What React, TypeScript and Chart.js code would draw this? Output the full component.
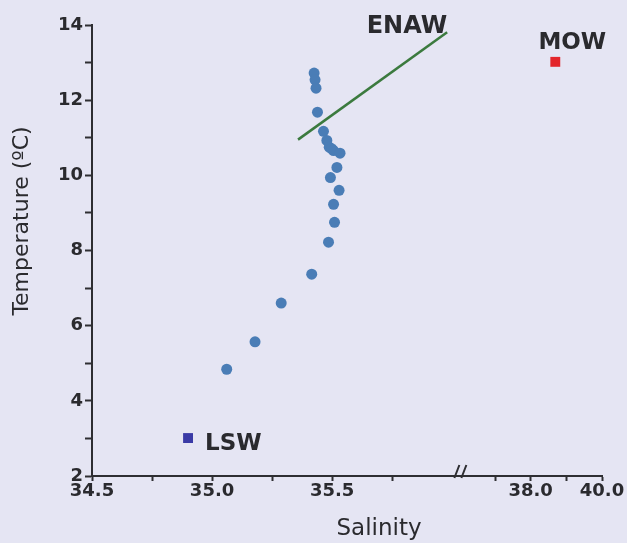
import React, { useEffect, useRef } from 'react';
import { Chart, registerables } from 'chart.js';

Chart.register(...registerables);

// ---- data ----
const SALINITY = [35.425, 35.429, 35.433, 35.439, 35.464, 35.478, 35.488, 35.498, 35.506, 35.533, 35.52, 35.493, 35.529, 35.506, 35.51, 35.485, 35.415, 35.288, 35.179, 35.061];
const TEMPERATURE = [12.72, 12.54, 12.32, 11.68, 11.17, 10.93, 10.75, 10.71, 10.66, 10.59, 10.21, 9.94, 9.6, 9.23, 8.75, 8.22, 7.37, 6.6, 5.57, 4.84];
const ENAW_SAL = [35.358, 35.979];
const ENAW_TEMP = [10.95, 13.81];
const MOW_SAL = [38.69];
const MOW_TEMP = [13.02];
const LSW_SAL = [34.9];
const LSW_TEMP = [3.01];
const X_TICKS = [34.5, 34.75, 35.0, 35.25, 35.5, 35.75, 37, 38, 39, 40];
const X_TICK_LABELS = ['34.5', '', '35.0', '', '35.5', '', '', '38.0', '', '40.0'];
const Y_MIN = 2;
const Y_MAX = 14;
const X_TITLE = 'Salinity';
const Y_TITLE = 'Temperature (\u00baC)';

// broken x axis mapping
const BREAK_SAL = 36;
const BREAK_GAP = 0.03;
const RIGHT_FACTOR = 0.1485;
const toAxis = (s: number) => (s <= BREAK_SAL ? s : BREAK_SAL + BREAK_GAP + (s - BREAK_SAL) * RIGHT_FACTOR);

const FONT = 'DejaVu Sans';
const TEXT = '#2a2a2e';
const AXIS = '#2e2e32';
const BLUE = '#4a7db6';
const GREEN = '#3b7a3e';
const RED = '#e3262b';
const INDIGO = '#3a3aa6';
const BG = '#e5e5f3';

const annotPlugin = {
  id: 'annot',
  afterDraw(chart: any) {
    const ctx = chart.ctx;
    const xs = chart.scales.x;
    const ys = chart.scales.y;
    const area = chart.chartArea;
    ctx.save();
    ctx.fillStyle = TEXT;
    // ENAW label at line end
    const ex = xs.getPixelForValue(toAxis(ENAW_SAL[1]));
    const ey = ys.getPixelForValue(ENAW_TEMP[1]);
    ctx.font = `bold 24px "${FONT}"`;
    ctx.textAlign = 'right';
    ctx.textBaseline = 'alphabetic';
    ctx.fillText('ENAW', ex, ey + 1);
    // MOW label
    const mx = xs.getPixelForValue(toAxis(MOW_SAL[0]));
    const my = ys.getPixelForValue(MOW_TEMP[0]);
    ctx.font = `bold 23px "${FONT}"`;
    ctx.textAlign = 'center';
    ctx.fillText('MOW', mx + 17, my - 13);
    // LSW label
    const lx = xs.getPixelForValue(toAxis(LSW_SAL[0]));
    const ly = ys.getPixelForValue(LSW_TEMP[0]);
    ctx.textAlign = 'left';
    ctx.fillText('LSW', lx + 17, ly + 12);
    // axis titles
    ctx.font = `23px "${FONT}"`;
    ctx.textAlign = 'center';
    ctx.fillText(X_TITLE, area.left + 287, area.bottom + 59);
    ctx.save();
    ctx.translate(area.left - 64, area.top + 196);
    ctx.rotate(-Math.PI / 2);
    ctx.font = `22px "${FONT}"`;
    ctx.fillText(Y_TITLE, 0, 0);
    ctx.restore();
    // axis break mark
    const bx = xs.getPixelForValue(BREAK_SAL + BREAK_GAP);
    const by = area.bottom;
    ctx.strokeStyle = AXIS;
    ctx.lineWidth = 2;
    ctx.beginPath();
    ctx.moveTo(bx - 5, by + 2);
    ctx.lineTo(bx, by - 11);
    ctx.moveTo(bx + 2, by + 2);
    ctx.lineTo(bx + 7, by - 11);
    ctx.stroke();
    ctx.restore();
  },
};

export default function App() {
  const ref = useRef<HTMLCanvasElement | null>(null);
  useEffect(() => {
    if (!ref.current) return;
    const tickFont = { family: FONT, size: 18, weight: 'bold' as const };
    const chart = new Chart(ref.current, {
      type: 'scatter',
      data: {
        datasets: [
          {
            label: 'ENAW',
            data: ENAW_SAL.map((s, i) => ({ x: toAxis(s), y: ENAW_TEMP[i] })),
            showLine: true,
            borderColor: GREEN,
            backgroundColor: GREEN,
            borderWidth: 2.5,
            pointRadius: 0,
          },
          {
            label: 'MOW',
            data: MOW_SAL.map((s, i) => ({ x: toAxis(s), y: MOW_TEMP[i] })),
            pointStyle: 'rect',
            pointRadius: 7,
            backgroundColor: RED,
            borderWidth: 0,
          },
          {
            label: 'LSW',
            data: LSW_SAL.map((s, i) => ({ x: toAxis(s), y: LSW_TEMP[i] })),
            pointStyle: 'rect',
            pointRadius: 7,
            backgroundColor: INDIGO,
            borderWidth: 0,
          },
          {
            label: 'Samples',
            data: SALINITY.map((s, i) => ({ x: toAxis(s), y: TEMPERATURE[i] })),
            pointRadius: 5.5,
            backgroundColor: BLUE,
            borderWidth: 0,
          },
        ],
      },
      options: {
        animation: false,
        responsive: false,
        layout: { padding: { top: 25, right: 25, left: 0, bottom: 0 } },
        plugins: { legend: { display: false }, tooltip: { enabled: false } },
        scales: {
          x: {
            type: 'linear',
            min: toAxis(34.5),
            max: toAxis(40),
            afterBuildTicks: (sc: any) => {
              sc.ticks = X_TICKS.map((v) => ({ value: toAxis(v) }));
            },
            afterFit: (sc: any) => {
              sc.height = 67;
            },
            ticks: {
              autoSkip: false,
              maxRotation: 0,
              padding: 0,
              color: TEXT,
              font: tickFont,
              callback: (_v: any, i: number) => X_TICK_LABELS[i],
            },
            grid: { drawOnChartArea: false, drawTicks: true, tickLength: 5, tickWidth: 2, tickColor: AXIS },
            border: { display: true, color: AXIS, width: 2 },
          },
          y: {
            min: Y_MIN,
            max: Y_MAX,
            afterFit: (sc: any) => {
              sc.width = 92;
            },
            ticks: {
              stepSize: 1,
              autoSkip: false,
              padding: 2,
              color: TEXT,
              font: tickFont,
              callback: (v: any) => (Number(v) % 2 === 0 ? String(v) : ''),
            },
            grid: { drawOnChartArea: false, drawTicks: true, tickLength: 7, tickWidth: 2, tickColor: AXIS },
            border: { display: true, color: AXIS, width: 2 },
          },
        },
      },
      plugins: [annotPlugin],
    });
    return () => chart.destroy();
  }, []);

  return (
    <div style={{ position: 'fixed', left: 0, top: 0, width: 627, height: 543, background: BG }}>
      <canvas ref={ref} width={627} height={543} style={{ display: 'block', width: 627, height: 543 }} />
    </div>
  );
}
